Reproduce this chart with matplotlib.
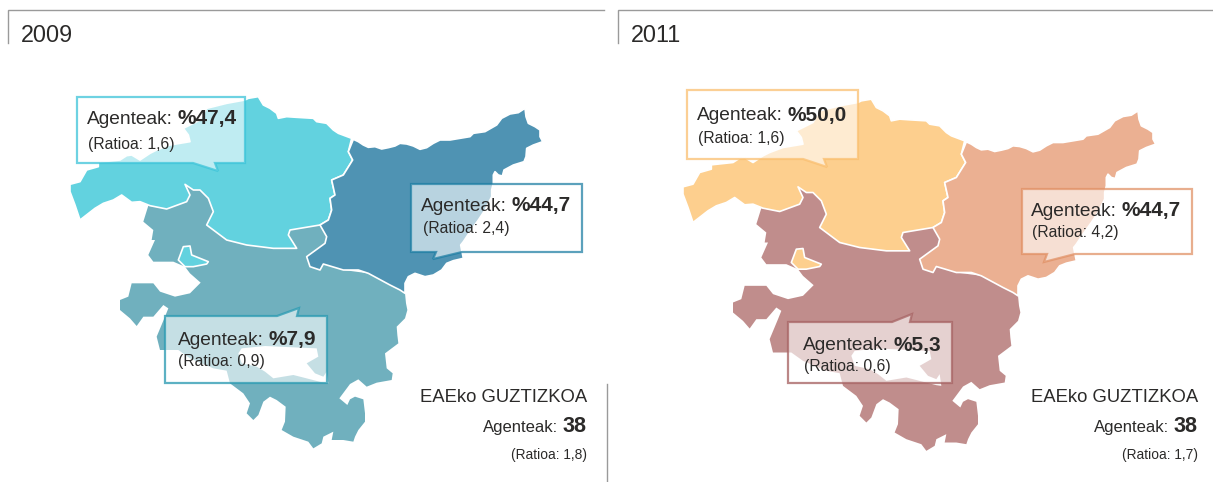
import matplotlib
matplotlib.use("Agg")
import matplotlib.pyplot as plt
from matplotlib.path import Path
from matplotlib.patches import PathPatch, Polygon

plt.rcParams['font.family'] = ['Liberation Sans', 'DejaVu Sans']

# ---- data
years = ['2009', '2011']
pct_bizkaia = ['%47,4', '%50,0']
ratio_bizkaia = ['1,6', '1,6']
pct_gipuzkoa = ['%44,7', '%44,7']
ratio_gipuzkoa = ['2,4', '4,2']
pct_araba = ['%7,9', '%5,3']
ratio_araba = ['0,9', '0,6']
total_agents = ['38', '38']
total_ratio = ['1,8', '1,7']

colors_bizkaia = ['#62D2DF', '#FDCF8E']
colors_gipuzkoa = ['#4F93B3', '#EBB092']
colors_araba = ['#70B0BE', '#C08D8C']
edge_bizkaia = [(0.24, 0.77, 0.85, 0.75), (0.98, 0.75, 0.44, 0.75)]
edge_gipuzkoa = [(0.11, 0.49, 0.64, 0.72), (0.88, 0.56, 0.39, 0.72)]
edge_araba = [(0.18, 0.61, 0.70, 0.78), (0.66, 0.40, 0.40, 0.78)]


def traced(pts, ox, oy):
    return [(ox + x / 3, oy + y / 3) for x, y in pts]


bizkaia = traced([(30,298),(60,290),(80,255),(115,245),(115,232),(180,225),(200,212),(215,210),(240,225),
                  (270,205),(290,195),(330,180),(390,170),(385,150),(370,130),(410,110),(420,105),(440,70),
                  (500,55),(555,45),(565,40),(595,35),(610,60),(630,70),(650,85),(655,100),(680,95),
                  (710,97)], 60, 85) + \
    traced([(40,55),(50,65),(80,70),(100,90),(115,100),(155,115),(145,155),(158,180),(130,225),(95,240),
            (105,285),(90,295),(95,330),(85,360),(60,375)], 300, 100) + \
    traced([(690,435),(685,450),(710,490),(640,490),(560,480),(500,465),(440,420),(460,380),(445,340),
            (420,315),(400,315),(375,298),(390,330),(380,350),(320,372),(270,362),(240,350),(215,352),
            (185,330),(160,345),(130,355),(105,370),(60,405),(45,360),(30,320)], 60, 85)
gipuzkoa = traced([(160,118),(175,125),(190,135),(205,142),(225,140),(245,147),(265,143),(285,138),(300,130),
                   (320,132),(340,138),(360,148),(380,143),(400,130),(420,120),(450,120),(480,115),(510,110),
                   (520,100),(555,95),(590,75),(605,55),(630,42),(655,38),(675,25),(678,50),(685,70),(705,80),
                   (720,90),(720,110),(728,125),(700,135),(680,145),(678,170),(672,185),(640,195),(612,210),
                   (607,228),(595,225),(585,215),(580,225),(580,250),(575,270),(575,290),(555,330),(535,360),
                   (510,395),(490,425),(482,435),(490,475),(460,482),(440,490),(425,510),(400,525),(375,530),
                   (345,520),(325,530),(315,550),(315,580),(300,570),(270,555),(205,520),(175,510),(130,510),
                   (70,492),(60,510),(30,500),(20,470),(75,430),(80,410),(60,375),(85,360),(95,330),(90,295),
                   (105,285),(95,240),(130,225),(158,180),(145,155)], 300, 100)
araba = traced([(265,362),(320,372),(380,350),(390,330),(375,298),(400,315),(420,315),(445,340),(460,380),
                (440,420),(500,465),(560,480),(640,490),(710,490),(685,450),(690,435),(810,410)], 60, 85) + \
    traced([(75,430),(20,470),(30,500),(60,510),(70,492),(130,510),(205,520),(300,570),(315,580)], 300, 100) + \
    traced([(888,190),(892,210),(885,235),(860,260),(862,285),(865,310),(825,340),(830,385),(848,400),(845,420),
            (800,428),(770,440),(745,418),(720,432),(688,475),(712,495),(720,478),(735,470),(760,478),(765,520),
            (765,545),(745,570),(735,590),(730,605),(700,600),(665,600),(670,575),(640,590),(635,610),(610,625),
            (595,605),(550,590),(515,570),(525,545),(527,500),(500,480),(480,470),(460,485),(445,525),(430,540),
            (410,520),(420,490),(400,460),(360,430),(350,392),(310,385),(240,355),(205,330),(150,330),(140,290),
            (165,230),(175,205),(160,195),(130,230),(100,230),(80,258),(60,235),(30,210),(30,180),(55,170),
            (65,130),(130,130),(150,155),(195,170),(240,160),(272,128),(240,100),(225,80),(190,65),(130,65),
            (115,45),(135,0)], 110, 240) + \
    traced([(275,465),(280,435),(250,410)], 60, 85)
trevino = traced([(385,340),(395,370),(440,380),(465,395),(490,415),(550,405),(570,410),(640,428),(655,430),
                  (650,395),(640,410),(615,400),(590,370),(625,350),(620,325),(550,322),(465,318),(395,325)],
                 110, 240)
orduna = traced([(205,60),(220,20),(240,18),(245,45),(295,65),(290,72),(250,80),(225,80)], 110, 240)

# ---- callouts per panel
callout_bizkaia = [[(77,97),(245,97),(245,163),(215,163),(218,171),(193,163),(77,163)],
                   [(687,90),(858,90),(858,159),(824,159),(827,167),(803,159),(687,159)]]
callout_gipuzkoa = [[(411,184),(582,184),(582,252),(462,252),(433,259),(436,252),(411,252)],
                    [(1022,189),(1192,189),(1192,254),(1075,254),(1044,262),(1047,254),(1022,254)]]
callout_araba = [[(165,316),(277,316),(299,308),(297,316),(327,316),(327,383),(165,383)],
                 [(788,322),(892,322),(912,314),(910,322),(952,322),(952,383),(788,383)]]
text_bizkaia = [(87,124,88,148.5),(697,120.5,698,143.5)]
text_gipuzkoa = [(421,211,423,233),(1031,216,1032,237.5)]
text_araba = [(178,345,178,366),(803,350.5,804,371.5)]

DX, DY = 613, 2.5
TXT = '#2B2A29'

fig = plt.figure(figsize=(12.13, 4.82), dpi=100)
ax = fig.add_axes([0, 0, 1, 1])
ax.set_xlim(0, 1213)
ax.set_ylim(482, 0)
ax.axis('off')
renderer = fig.canvas.get_renderer()


def ring(pts, dx, dy):
    p = [(x + dx, y + dy) for x, y in pts]
    return p + [p[0]], [Path.MOVETO] + [Path.LINETO] * (len(p) - 1) + [Path.CLOSEPOLY]


def shape(rings, dx, dy, color, z, lw=1.2):
    v, c = [], []
    for r in rings:
        a, b = ring(r, dx, dy)
        v += a
        c += b
    ax.add_patch(PathPatch(Path(v, c), facecolor=color, edgecolor='white', lw=lw, zorder=z,
                           joinstyle='round'))


def two_part(x, y, regular, bold, size, bsize, gap, right=False):
    t1 = ax.text(x, y, regular, fontsize=size, color=TXT, va='baseline', ha='left', zorder=6)
    t2 = ax.text(x, y, bold, fontsize=bsize, color=TXT, va='baseline', ha='left',
                 fontweight='bold', zorder=6)
    w1 = t1.get_window_extent(renderer).width
    w2 = t2.get_window_extent(renderer).width
    if right:
        t1.set_x(x - w2 - w1 - gap)
        t2.set_x(x - w2)
    else:
        t2.set_x(x + w1 + gap)


def callout(verts, edge, pos, pct, ratio):
    ax.add_patch(Polygon(verts, closed=True, facecolor=(1, 1, 1, 0.6), edgecolor=edge, lw=1.6,
                         zorder=5, joinstyle='miter'))
    two_part(pos[0], pos[1], 'Agenteak:', pct, 13.8, 15.0, 5)
    ax.text(pos[2], pos[3], f'(Ratioa: {ratio})', fontsize=11.3, color=TXT, va='baseline', zorder=6)


frames = [(8, 604), (618, 1213)]
year_x = [21, 631]
total_x = [587, 1198]

for i in range(2):
    dx, dy = (DX, DY) if i else (0, 0)
    x0, x1 = frames[i]
    ax.plot([x0, x0, x1], [43, 10, 10], color='#9A9A9A', lw=1.0, solid_joinstyle='miter')
    ax.text(year_x[i], 42.5, years[i], fontsize=16.8, color=TXT, va='baseline')

    shape([araba, trevino], dx, dy, colors_araba[i], 1, lw=0)
    shape([bizkaia], dx, dy, colors_bizkaia[i], 2)
    shape([gipuzkoa], dx, dy, colors_gipuzkoa[i], 3)
    shape([orduna], dx, dy, colors_bizkaia[i], 3)

    callout(callout_bizkaia[i], edge_bizkaia[i], text_bizkaia[i], pct_bizkaia[i], ratio_bizkaia[i])
    callout(callout_gipuzkoa[i], edge_gipuzkoa[i], text_gipuzkoa[i], pct_gipuzkoa[i], ratio_gipuzkoa[i])
    callout(callout_araba[i], edge_araba[i], text_araba[i], pct_araba[i], ratio_araba[i])

    tx = total_x[i]
    ax.text(tx, 402, 'EAEko GUZTIZKOA', fontsize=13.3, color=TXT, ha='right', va='baseline')
    two_part(tx, 432, 'Agenteak:', total_agents[i], 12, 15.6, 5, right=True)
    ax.text(tx, 459, f'(Ratioa: {total_ratio[i]})', fontsize=9.9, color=TXT, ha='right', va='baseline')

ax.plot([607, 607], [384, 482], color='#9A9A9A', lw=1.0)

fig.savefig('out.png', dpi=100)
